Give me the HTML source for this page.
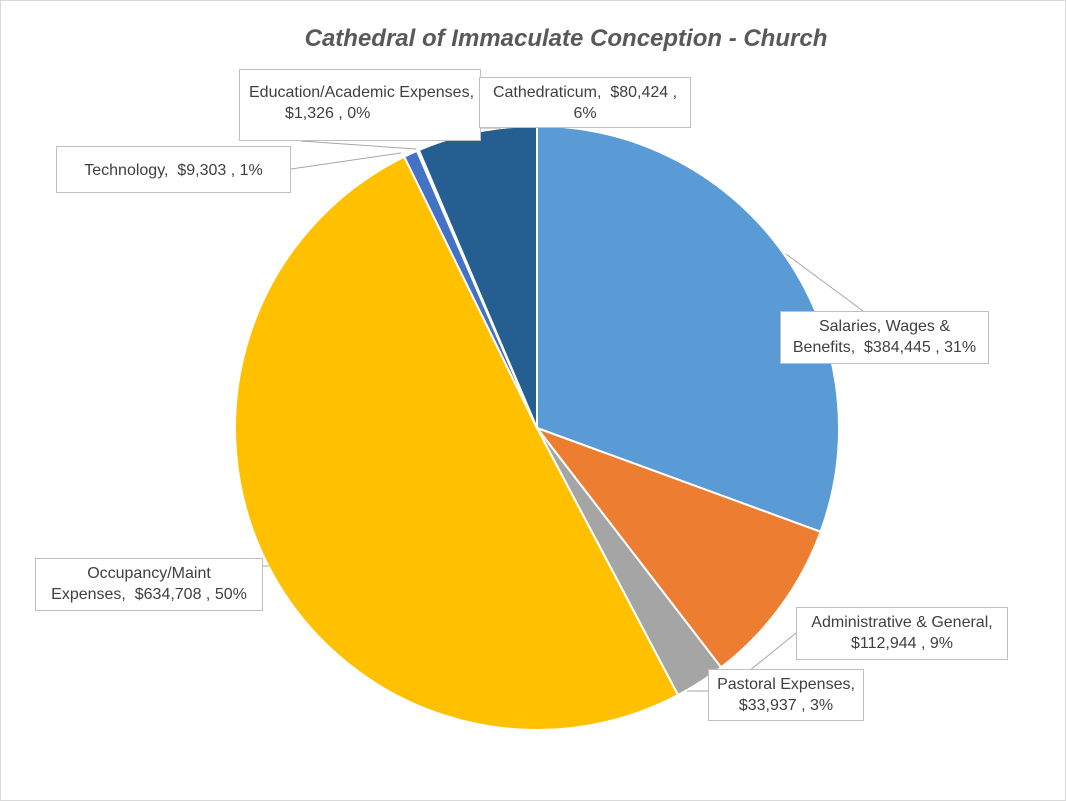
<!DOCTYPE html>
<html><head><style>
body{margin:0;background:#fff;}
.c{position:relative;width:1064px;height:799px;border:1px solid #d9d9d9;font-family:"Liberation Sans",sans-serif;overflow:hidden}
.t{position:absolute;top:24px;left:0;width:1130px;text-align:center;font-size:24px;font-weight:bold;font-style:italic;color:#595959}
.l{position:absolute;background:#fff;border:1px solid #bfbfbf;font-size:16px;color:#404040;text-align:center;line-height:21px;box-sizing:border-box;padding-top:4px;white-space:nowrap}
svg{position:absolute;left:0;top:0}
</style></head><body><div class="c">
<svg width="1066" height="801" id="s"></svg>
<div class="t">Cathedral of Immaculate Conception - Church</div>
<div class="l" style="left:238px;top:68px;width:242px;height:72px;text-align:left;padding-left:9px;padding-top:12px">Education/Academic Expenses,<br><span style="padding-left:36px">$1,326 , 0%</span></div>
<div class="l" style="left:478px;top:76px;width:212px;height:51px">Cathedraticum,&nbsp; $80,424 ,<br>6%</div>
<div class="l" style="left:55px;top:145px;width:235px;height:47px;padding-top:13px">Technology,&nbsp; $9,303 , 1%</div>
<div class="l" style="left:779px;top:310px;width:209px;height:53px">Salaries, Wages &amp;<br>Benefits,&nbsp; $384,445 , 31%</div>
<div class="l" style="left:795px;top:606px;width:212px;height:53px">Administrative &amp; General,<br>$112,944 , 9%</div>
<div class="l" style="left:707px;top:668px;width:156px;height:52px">Pastoral Expenses,<br>$33,937 , 3%</div>
<div class="l" style="left:34px;top:557px;width:228px;height:53px">Occupancy/Maint<br>Expenses,&nbsp; $634,708 , 50%</div>
</div>
<script>
var v=[384445,112944,33937,634708,9303,1326,80424],c=["#5B9BD5","#ED7D31","#A5A5A5","#FFC000","#4472C4","#70AD47","#255E91"];
var T=v.reduce((a,b)=>a+b),cx=536,cy=427,r=302,a=0,s="";
v.forEach((x,i)=>{var b=a+x/T*2*Math.PI;var p=t=>[cx+r*Math.sin(t),cy-r*Math.cos(t)];var A=p(a),B=p(b);
s+='<path d="M'+cx+','+cy+'L'+A[0]+','+A[1]+'A'+r+','+r+' 0 '+(b-a>Math.PI?1:0)+' 1 '+B[0]+','+B[1]+'Z" fill="'+c[i]+'" stroke="#fff" stroke-width="2"/>';a=b;});
s+='<g stroke="#a6a6a6" fill="none"><path d="M785,253L862,310"/><path d="M748,670L795,632"/><path d="M686,690L710,690"/><path d="M262,565L268,565"/><path d="M400,152L290,168"/><path d="M415,148L300,140"/><path d="M478,127L500,127"/></g>';
document.getElementById("s").innerHTML=s;
</script></body></html>
